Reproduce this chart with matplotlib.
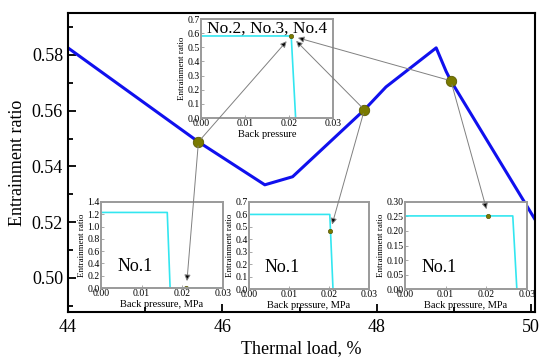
import matplotlib
matplotlib.use("Agg")
import matplotlib.pyplot as plt
from matplotlib.patches import ConnectionPatch
from matplotlib.ticker import MultipleLocator, FormatStrFormatter

plt.rcParams['font.family'] = ['Liberation Serif', 'DejaVu Serif']

# ── main curve: entrainment ratio vs thermal load ────────────────────────────
load = [44.0, 45.69, 46.55, 46.91, 47.84, 48.12, 48.77, 48.90, 48.96, 50.05]
ratio = [0.5825, 0.5488, 0.5334, 0.5363, 0.5603, 0.5685, 0.5825, 0.5740, 0.5707, 0.5210]

# selected operating points (circles)
pt_load = [45.69, 47.84, 48.96]
pt_ratio = [0.5488, 0.5603, 0.5707]

# ── inset curves: entrainment ratio vs back pressure ────────────────────────
top_bp = [0.0, 0.0205, 0.0215]
top_er = [0.58, 0.58, 0.0]
top_pt = (0.0205, 0.58)

bl_bp = [0.0, 0.0163, 0.0170, 0.03]
bl_er = [1.23, 1.23, 0.0, 0.0]
bl_pt = (0.021, 0.0)

bm_bp = [0.0, 0.0202, 0.0210]
bm_er = [0.60, 0.60, 0.0]
bm_pt = (0.0203, 0.465)

br_bp = [0.0, 0.0265, 0.0275]
br_er = [0.252, 0.252, 0.0]
br_pt = (0.0205, 0.252)

OLIVE = '#7a7a00'
CYAN = '#33e6f0'
GRAY = '#9a9a9a'

fig = plt.figure(figsize=(5.5, 3.6), dpi=100)
ax = fig.add_axes([0.1236, 0.1333, 0.8491, 0.8306])

ax.plot(load, ratio, color='#1010ee', lw=2.2, zorder=2)
ax.plot(pt_load, pt_ratio, 'o', ms=7.5, color=OLIVE, mec='#5a5a00', mew=0.6, zorder=3)

ax.set_xlim(44, 50.05)
ax.set_ylim(0.4878, 0.595)
ax.xaxis.set_major_locator(MultipleLocator(2))
ax.xaxis.set_minor_locator(MultipleLocator(1))
ax.yaxis.set_major_locator(MultipleLocator(0.02))
ax.yaxis.set_minor_locator(MultipleLocator(0.01))
ax.tick_params(which='both', direction='in', width=1.3, labelsize=13)
ax.tick_params(which='major', length=6)
ax.tick_params(which='minor', length=3.5)
ax.tick_params(axis='x', pad=5)
ax.yaxis.set_major_formatter(FormatStrFormatter('%.2f'))
for s in ax.spines.values():
    s.set_linewidth(1.5)
ax.set_xlabel('Thermal load, %', fontsize=13, labelpad=3)
ax.set_ylabel('Entrainment ratio', fontsize=13, labelpad=4)


def make_inset(rect, bp, er, pt, ymax, ystep, yfmt, xlabel, tag, tag_xy, tag_size=13):
    ia = fig.add_axes(rect)
    ia.set_zorder(5)
    ia.plot(bp, er, color=CYAN, lw=1.2)
    ia.plot([pt[0]], [pt[1]], 'o', ms=3.2, color=OLIVE, mec='#4a4a00', mew=0.4)
    ia.set_xlim(0, 0.03)
    ia.set_ylim(0, ymax)
    ia.xaxis.set_major_locator(MultipleLocator(0.01))
    ia.yaxis.set_major_locator(MultipleLocator(ystep))
    ia.xaxis.set_major_formatter(FormatStrFormatter('%.2f'))
    ia.yaxis.set_major_formatter(FormatStrFormatter(yfmt))
    ia.tick_params(direction='in', length=2, width=0.6, color=GRAY, labelsize=7, pad=1)
    for s in ia.spines.values():
        s.set_color(GRAY)
        s.set_linewidth(1.4)
    ia.set_xlabel(xlabel, fontsize=7.5, labelpad=1)
    ia.set_ylabel('Entrainment ratio', fontsize=6.5, labelpad=1)
    ia.text(tag_xy[0], tag_xy[1], tag, fontsize=tag_size, transform=ia.transAxes,
            ha='center', va='center')
    return ia


top = make_inset([0.3655, 0.6722, 0.24, 0.275], top_bp, top_er, top_pt, 0.7, 0.1, '%.1f',
                 'Back pressure', 'No.2, No.3, No.4', (0.5, 0.9), 12.5)
bl = make_inset([0.1836, 0.2, 0.2218, 0.2389], bl_bp, bl_er, bl_pt, 1.4, 0.2, '%.1f',
                'Back pressure, MPa', 'No.1', (0.28, 0.25))
bm = make_inset([0.4527, 0.1972, 0.2182, 0.2417], bm_bp, bm_er, bm_pt, 0.7, 0.1, '%.1f',
                'Back pressure, MPa', 'No.1', (0.28, 0.25))
br = make_inset([0.7364, 0.1972, 0.2218, 0.2417], br_bp, br_er, br_pt, 0.30, 0.05, '%.2f',
                'Back pressure, MPa', 'No.1', (0.28, 0.25))

# arrows from the operating points to the inset curves
links = [(0, top, top_pt), (0, bl, bl_pt),
         (1, top, top_pt), (1, bm, bm_pt),
         (2, top, top_pt), (2, br, br_pt)]
for i, target, tp in links:
    cp = ConnectionPatch(xyA=(pt_load[i], pt_ratio[i]), coordsA=ax.transData,
                         xyB=tp, coordsB=target.transData,
                         arrowstyle='-|>', mutation_scale=9, shrinkA=3, shrinkB=5,
                         color='#808080', lw=0.7, fc='black', ec='#808080')
    cp.set_zorder(10)
    fig.add_artist(cp)

fig.savefig('out.png', dpi=100)
